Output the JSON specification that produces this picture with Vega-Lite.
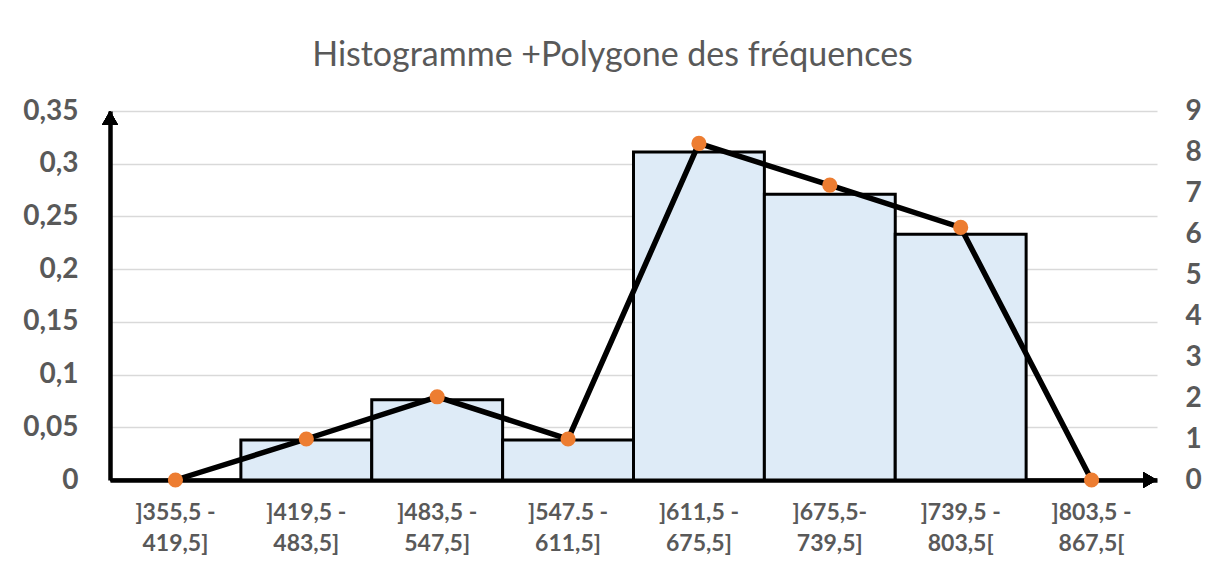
{
  "$schema": "https://vega.github.io/schema/vega-lite/v6.json",
  "width": 1047,
  "height": 369,
  "autosize": {"type": "none"},
  "padding": {"left": 110, "top": 111, "right": 59, "bottom": 92},
  "background": "white",
  "config": {"view": {"stroke": null}, "font": "Lato"},
  "title": {
    "text": "Histogramme +Polygone des fréquences",
    "anchor": "middle",
    "frame": "group",
    "dx": -21,
    "offset": 24,
    "fontSize": 34,
    "fontWeight": "normal",
    "font": "Lato",
    "color": "#595959"
  },
  "data": {
    "values": [
      {"classe": "]355,5 - 419,5]", "frequence": 0, "effectif": 0},
      {"classe": "]419,5 - 483,5]", "frequence": 0.038, "effectif": 1},
      {"classe": "]483,5 - 547,5]", "frequence": 0.076, "effectif": 2.03},
      {"classe": "]547.5 - 611,5]", "frequence": 0.038, "effectif": 1},
      {"classe": "]611,5 - 675,5]", "frequence": 0.311, "effectif": 8.21},
      {"classe": "]675,5- 739,5]", "frequence": 0.271, "effectif": 7.19},
      {"classe": "]739,5 - 803,5[", "frequence": 0.233, "effectif": 6.16},
      {"classe": "]803,5 - 867,5[", "frequence": 0, "effectif": 0}
    ]
  },
  "encoding": {
    "x": {
      "field": "classe",
      "type": "nominal",
      "sort": null,
      "scale": {"paddingInner": 0, "paddingOuter": 0},
      "axis": {
        "title": null,
        "labelAngle": 0,
        "ticks": false,
        "domain": true,
        "domainColor": "black",
        "domainWidth": 4.5,
        "labelFont": "Lato",
        "labelFontSize": 23,
        "labelFontWeight": "bold",
        "labelColor": "#595959",
        "labelPadding": 21,
        "labelLineHeight": 31,
        "labelExpr": "[slice(datum.label, 0, indexof(datum.label, '-') + 1), trim(slice(datum.label, indexof(datum.label, '-') + 1))]"
      }
    }
  },
  "layer": [
    {
      "encoding": {
        "y": {
          "type": "quantitative",
          "scale": {"domain": [0, 0.35], "nice": false},
          "axis": {
            "orient": "left",
            "title": null,
            "values": [0, 0.05, 0.1, 0.15, 0.2, 0.25, 0.3, 0.35],
            "labelExpr": "replace(format(datum.value, '.2~f'), '.', ',')",
            "ticks": false,
            "domainColor": "black",
            "domainWidth": 4.5,
            "grid": true,
            "gridColor": "#d9d9d9",
            "gridWidth": 1.5,
            "labelFont": "Lato",
            "labelFontSize": 28,
            "labelFontWeight": "bold",
            "labelColor": "#595959",
            "labelPadding": 32
          }
        }
      },
      "layer": [
        {
          "mark": {"type": "bar", "fill": "#deebf7", "stroke": "black", "strokeWidth": 3},
          "encoding": {"y": {"field": "frequence"}}
        },
        {
          "mark": {"type": "point", "shape": "triangle-up", "filled": true, "color": "black", "opacity": 1, "size": 256, "yOffset": 7},
          "encoding": {
            "x": {"datum": "]355,5 - 419,5]", "bandPosition": 0},
            "y": {"datum": 0.35}
          }
        },
        {
          "mark": {"type": "point", "shape": "triangle-right", "filled": true, "color": "black", "opacity": 1, "size": 256, "xOffset": -7},
          "encoding": {
            "x": {"datum": "]803,5 - 867,5[", "bandPosition": 1},
            "y": {"datum": 0}
          }
        }
      ]
    },
    {
      "encoding": {
        "y": {
          "field": "effectif",
          "type": "quantitative",
          "scale": {"domain": [0, 9], "nice": false},
          "axis": {
            "orient": "right",
            "title": null,
            "values": [0, 1, 2, 3, 4, 5, 6, 7, 8, 9],
            "ticks": false,
            "domain": false,
            "grid": false,
            "labelFont": "Lato",
            "labelFontSize": 28,
            "labelFontWeight": "bold",
            "labelColor": "#595959",
            "labelPadding": 28
          }
        }
      },
      "layer": [
        {
          "mark": {"type": "line", "color": "black", "strokeWidth": 5.5}
        },
        {
          "mark": {"type": "point", "filled": true, "color": "#ed7d31", "opacity": 1, "size": 230}
        }
      ]
    }
  ],
  "resolve": {"scale": {"y": "independent"}}
}
